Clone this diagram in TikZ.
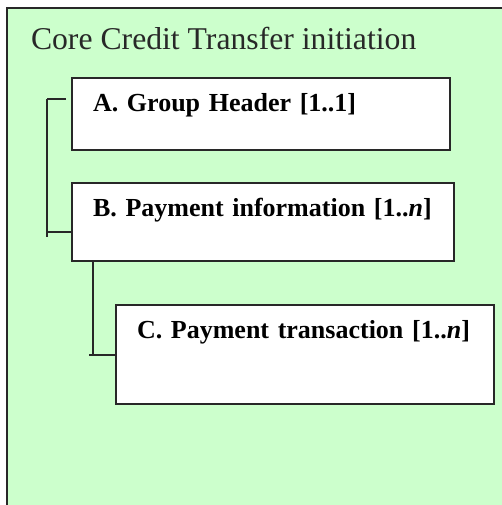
\documentclass[tikz,border=0pt]{standalone}
\usepackage{fontspec}
\setmainfont{Liberation Serif}
\usetikzlibrary{positioning}

\definecolor{panelgreen}{RGB}{204,255,204}
\definecolor{inkgray}{RGB}{40,40,40}

\begin{document}
\begin{tikzpicture}[
        x=1pt, y=1pt,
        node distance=31pt and 44pt,
        line width=2pt, draw=inkgray,
        link/.style={draw=inkgray, line width=2pt},
        block/.style={draw=inkgray, line width=2pt, fill=white, anchor=north west, align=left, inner xsep=21pt, inner ysep=16pt,
                      text height=17.5pt, font=\bfseries\fontsize{26}{30}\selectfont}
    ]
  \useasboundingbox (0,0) rectangle (502,505);

  % Panel
  \draw[draw=inkgray, fill=panelgreen] (7,497) rectangle (530,-30);

  % Nodes
  \node (title) [anchor=base west, inner sep=0pt, text=inkgray, font=\fontsize{31.7}{36}\selectfont] at (30,455) {Core Credit Transfer initiation};
  \node (grpHdr) [block, text width=336pt, text depth=22.5pt] at (71,428) {\mbox{A. Group Header [1..1]}};
  \node (pmtInf) [block, below=of grpHdr.south west, anchor=north west, text width=340pt, text depth=28.5pt] {\mbox{B. Payment information [1..\textit{n}]}};
  \node (txInf) [block, below right=42pt and 44pt of pmtInf.south west, text width=336pt, text depth=49.5pt] {\mbox{C. Payment transaction [1..\textit{n}]}};

  % Connectors
  \draw[link] ([xshift=-5pt,yshift=-22pt]grpHdr.north west) -- ++(-19,0) coordinate (spine);
  \draw[link] (spine) |- ([yshift=-50pt]pmtInf.north west);
  \draw[link] (spine) -- ++(0,-138);
  \draw[link] ([xshift=22pt]pmtInf.south west) |- ([yshift=-51pt]txInf.north west);
  \draw[link] ([xshift=-26pt,yshift=-51pt]txInf.north west) -- ([yshift=-51pt]txInf.north west);
\end{tikzpicture}
\end{document}
